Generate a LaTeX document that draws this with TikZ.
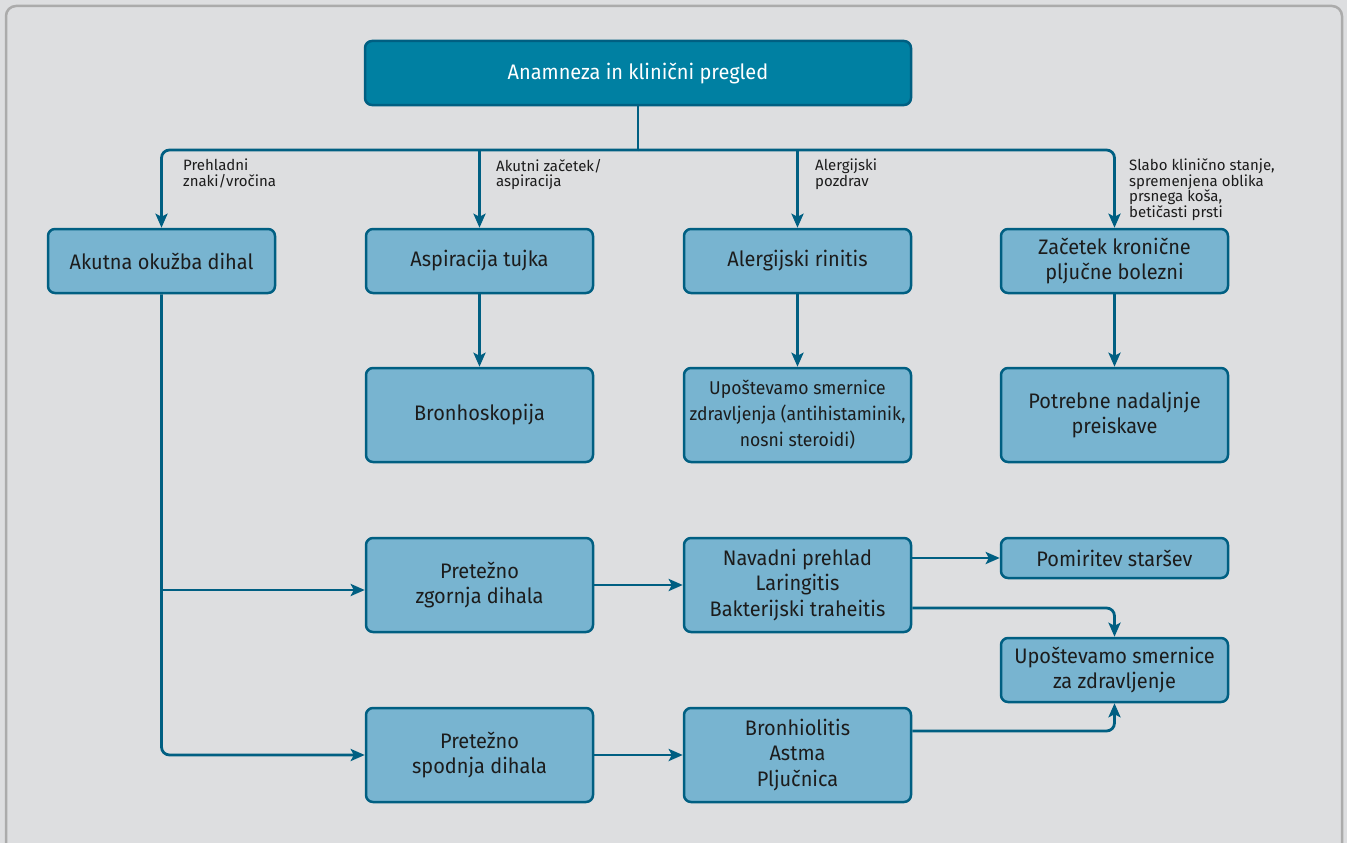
\documentclass[tikz,border=0pt]{standalone}
\usepackage{fontspec}
\setmainfont{Fira Sans}
\newfontfamily\boxfont{Fira Sans}[FakeStretch=0.95]
\usetikzlibrary{arrows.meta}
\definecolor{bgc}{HTML}{DDDEE0}
\definecolor{framec}{HTML}{ABABAB}
\definecolor{boxfill}{HTML}{78B4D0}
\definecolor{linec}{HTML}{005F82}
\definecolor{topfill}{HTML}{0080A2}
\definecolor{txtc}{HTML}{1C1C1C}
\tikzset{
  box/.style={draw=linec, line width=2.5pt, fill=boxfill, rounded corners=7pt,
    minimum width=227pt, inner sep=2pt, align=center, text=txtc,
    font=\boxfont\fontsize{21}{25.5}\selectfont},
  smallbox/.style={box, inner sep=0pt, font=\boxfont\fontsize{18.5}{26}\selectfont},
  topbox/.style={box, fill=topfill, text=white, minimum width=546pt, minimum height=64pt},
  conn/.style={draw=linec, line width=2.8pt},
  arr/.style={conn, -{Stealth[length=14pt,width=12pt,inset=3pt]}},
  lbl/.style={anchor=north west, inner sep=0pt, align=left, text=txtc,
    font=\fontsize{15}{15.5}\selectfont},
}
\begin{document}
\begin{tikzpicture}[x=1pt,y=-1pt]
\useasboundingbox (0,0) rectangle (1347,843);
\begin{scope}
\clip (0,0) rectangle (1347,843);
\fill[bgc] (0,0) rectangle (1347,843);
\draw[framec, line width=2.5pt, rounded corners=10pt, fill=bgc] (6,6) rectangle (1342,870);
\end{scope}

\node[topbox] (top) at (638,73) {Anamneza in klinični pregled};

\node[box, minimum height=64pt] (akutna) at (161.5,261) {Akutna okužba dihal};
\node[box, minimum height=64pt] (aspir) at (479.5,261) {Aspiracija tujka};
\node[box, minimum height=64pt] (alerg) at (797.5,261) {Alergijski rinitis};
\node[box, minimum height=64pt] (zacetek) at (1114.5,261) {Začetek kronične\\pljučne bolezni};

\node[box, minimum height=94pt] (bronh) at (479.5,415) {Bronhoskopija};
\node[smallbox, minimum height=94pt] (upost1) at (797.5,415) {Upoštevamo smernice\\zdravljenja (antihistaminik,\\nosni steroidi)};
\node[box, minimum height=94pt] (potrebne) at (1114.5,415) {Potrebne nadaljnje\\preiskave};

\node[box, minimum height=94pt] (pz) at (479.5,585) {Pretežno\\zgornja dihala};
\node[box, minimum height=94pt] (navadni) at (797.5,585) {Navadni prehlad\\Laringitis\\Bakterijski traheitis};
\node[box, minimum height=40pt] (pomir) at (1114.5,558) {Pomiritev staršev};
\node[box, minimum height=64pt] (upost2) at (1114.5,670) {Upoštevamo smernice\\za zdravljenje};

\node[box, minimum height=94pt] (ps) at (479.5,755) {Pretežno\\spodnja dihala};
\node[box, minimum height=94pt] (bronhio) at (797.5,755) {Bronhiolitis\\Astma\\Pljučnica};

% labels
\node[lbl] (l1) at (183,159) {Prehladni\\znaki/vročina};
\node[lbl] (l2) at (496,159) {Akutni začetek/\\aspiracija};
\node[lbl] (l3) at (815,159) {Alergijski\\pozdrav};
\node[lbl] (l4) at (1129,159) {Slabo klinično stanje,\\spremenjena oblika\\prsnega koša,\\betičasti prsti};

% top connectors
\coordinate (hub) at (638,150);
\draw[conn] (top.south) -- (hub);
\draw[arr, rounded corners=8pt] (hub) -| (akutna.north);
\draw[arr, rounded corners=8pt] (hub) -| (zacetek.north);
\draw[arr] (aspir.north |- hub) -- (aspir.north);
\draw[arr] (alerg.north |- hub) -- (alerg.north);

% row1 -> row2
\draw[arr] (aspir.south) -- (bronh.north);
\draw[arr] (alerg.south) -- (upost1.north);
\draw[arr] (zacetek.south) -- (potrebne.north);

% left trunk
\draw[arr, rounded corners=8pt] (akutna.south) |- (ps.west);
\coordinate (br) at (161.5,590);
\draw[arr] (br) -- (br -| pz.west);

\draw[arr] (pz.east) -- (navadni.west);
\draw[arr] (ps.east) -- (bronhio.west);
\draw[arr] (navadni.east |- pomir.west) -- (pomir.west);
\draw[arr, rounded corners=8pt] ([yshift=-23pt]navadni.east) -| (upost2.north);
\draw[arr, rounded corners=8pt] ([yshift=24pt]bronhio.east) -| (upost2.south);
\end{tikzpicture}
\end{document}
